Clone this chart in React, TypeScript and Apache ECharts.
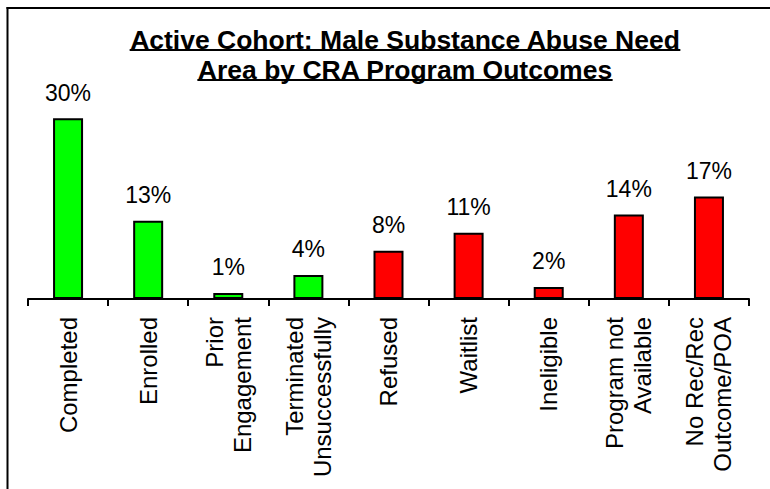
import React, { useEffect, useRef } from "react";
import * as echarts from "echarts";

const categories = [
  "Completed",
  "Enrolled",
  "Prior\nEngagement",
  "Terminated\nUnsuccessfully",
  "Refused",
  "Waitlist",
  "Ineligible",
  "Program not\nAvailable",
  "No Rec/Rec\nOutcome/POA",
];
const percentages = [30, 13, 1, 4, 8, 11, 2, 14, 17];
const outcomeGroup = ["engaged", "engaged", "engaged", "engaged", "other", "other", "other", "other", "other"];
const titleLines = ["Active Cohort: Male Substance Abuse Need", "Area by CRA Program Outcomes"];

const groupColors: Record<string, string> = { engaged: "#00FF00", other: "#FF0000" };
const FONT = "'Liberation Sans', Arial, Helvetica, sans-serif";

export default function App() {
  const ref = useRef<HTMLDivElement>(null);
  useEffect(() => {
    document.body.style.margin = "0";
    const chart = echarts.init(ref.current!, null, { renderer: "svg" });
    const titleSize = 26.5;
    const ctx = document.createElement("canvas").getContext("2d")!;
    ctx.font = `bold ${titleSize}px ${FONT}`;
    const cx = 405;
    const titleY = [39.5, 69.5];
    const underlineY = [50, 80];
    const graphics: any[] = [
      { type: "line", shape: { x1: 6.5, y1: 8, x2: 770, y2: 8 }, style: { stroke: "#000", lineWidth: 2 } },
      { type: "line", shape: { x1: 7.5, y1: 7, x2: 7.5, y2: 489 }, style: { stroke: "#000", lineWidth: 2 } },
    ];
    titleLines.forEach((t, i) => {
      const w = ctx.measureText(t).width;
      graphics.push({
        type: "text",
        x: cx,
        y: titleY[i],
        style: {
          text: t,
          fontSize: titleSize,
          fontWeight: "bold",
          fontFamily: FONT,
          fill: "#000",
          textAlign: "center",
          textVerticalAlign: "middle",
          align: "center",
          verticalAlign: "middle",
        },
      });
      graphics.push({
        type: "line",
        shape: { x1: cx - w / 2, y1: underlineY[i], x2: cx + w / 2, y2: underlineY[i] },
        style: { stroke: "#000", lineWidth: 2 },
      });
    });

    chart.setOption({
      animation: false,
      backgroundColor: "#fff",
      graphic: graphics,
      grid: { left: 28, right: 21, top: 88, bottom: 190, containLabel: false },
      xAxis: {
        type: "category",
        data: categories,
        axisLine: { show: true, lineStyle: { color: "#000", width: 2 } },
        axisTick: { show: true, length: 7, interval: 0, alignWithLabel: false, lineStyle: { color: "#000", width: 2 } },
        axisLabel: {
          rotate: 90,
          interval: 0,
          fontSize: 24,
          lineHeight: 28,
          color: "#000",
          margin: 18,
          fontFamily: FONT,
        },
      },
      yAxis: { type: "value", min: 0, max: 35, show: false },
      series: [
        {
          type: "bar",
          barWidth: 30,
          data: percentages.map((v, i) => ({ value: v, itemStyle: { color: groupColors[outcomeGroup[i]] } })),
          itemStyle: { borderColor: "#000", borderWidth: 2 },
          label: {
            show: true,
            position: "top",
            distance: 14,
            formatter: "{c}%",
            fontSize: 23,
            color: "#000",
            fontFamily: FONT,
          },
        },
      ],
    });
    return () => chart.dispose();
  }, []);
  return <div ref={ref} style={{ width: 770, height: 489 }} />;
}
